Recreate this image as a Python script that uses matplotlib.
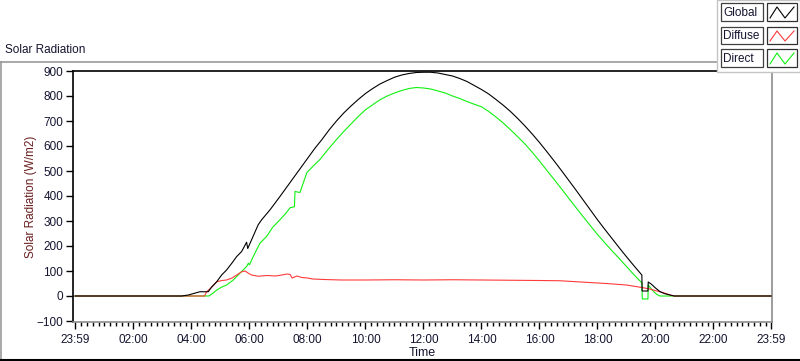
import matplotlib
matplotlib.use("Agg")
import matplotlib.pyplot as plt
from matplotlib.patches import Rectangle
from matplotlib.lines import Line2D
import numpy as np

plt.rcParams['font.family'] = ['Liberation Sans', 'DejaVu Sans']

# ---- data (hours since midnight; 23:59 of previous day = -1/60) ----
global_t = [-1/60, 3.66, 3.89, 4.29, 4.58, 4.7, 4.87, 5.04, 5.21, 5.39, 5.56, 5.73, 5.9, 5.94, 6.13,
            6.3, 6.42, 6.71, 7.0, 7.25, 7.5, 7.75, 8.0, 8.25, 8.5, 8.75, 9.0, 9.25, 9.5, 9.75, 10.0,
            10.25, 10.5, 10.75, 11.0, 11.25, 11.5, 11.75, 12.0, 12.25, 12.5, 12.75, 13.0, 13.25, 13.5,
            13.75, 14.0, 14.25, 14.5, 14.75, 15.0, 15.25, 15.5, 15.75, 16.0, 16.25, 16.5, 16.75, 17.0,
            17.25, 17.5, 17.75, 18.0, 18.25, 18.5, 18.75, 19.0, 19.25, 19.5, 19.53, 19.54, 19.74, 19.75,
            19.85, 20.0, 20.15, 20.3, 20.5, 20.65, 23 + 59/60]
global_v = [0, 0, 4, 17, 17, 37, 57, 84, 104, 131, 158, 178, 215, 190, 240,
            285, 305, 345, 390, 430, 470, 510, 550, 590, 626, 665, 700, 732, 760, 786, 810,
            830, 848, 862, 875, 884, 890, 894, 895, 895, 892, 886, 880, 870, 858,
            842, 826, 808, 786, 763, 738, 710, 680, 648, 614, 578, 541, 503, 464,
            425, 385, 345, 305, 267, 230, 193, 157, 122, 88, 84, 20, 20, 56,
            48, 32, 18, 10, 4, 0, 0]

diffuse_t = [-1/60, 4.45, 4.52, 4.7, 4.87, 5.05, 5.21, 5.4, 5.56, 5.73, 5.85, 5.95, 6.07, 6.3, 6.6,
             6.9, 7.12, 7.3, 7.4, 7.47, 7.64, 7.8, 8.0, 8.18, 8.58, 9.16, 10.0, 11.0, 12.0, 13.0,
             14.0, 15.0, 16.0, 16.7, 17.57, 18.3, 19.0, 19.53, 19.8, 20.15, 20.3, 20.5, 20.65,
             23 + 59/60]
diffuse_v = [0, 0, 17, 35, 57, 62, 64, 72, 84, 97, 100, 92, 84, 79, 82,
             80, 84, 88, 86, 72, 80, 74, 72, 68, 66, 64, 64, 65, 64, 65,
             64, 63, 62, 61, 55, 50, 44, 34, 28, 17, 12, 4, 0,
             0]

direct_t = [-1/60, 3.7, 4.6, 4.75, 4.87, 5.05, 5.21, 5.44, 5.67, 5.9, 5.96, 6.0, 6.13, 6.36, 6.59,
            6.8, 7.05, 7.25, 7.4, 7.55, 7.57, 7.74, 7.98, 8.2, 8.43, 8.7, 9.0, 9.25, 9.5, 9.75, 10.0,
            10.25, 10.5, 10.75, 11.0, 11.25, 11.5, 11.75, 12.0, 12.25, 12.5, 12.75, 13.0, 13.25, 13.5,
            13.75, 14.0, 14.25, 14.5, 14.75, 15.0, 15.25, 15.5, 15.75, 16.0, 16.25, 16.5, 16.75, 17.0,
            17.25, 17.5, 17.75, 18.0, 18.25, 18.5, 18.75, 19.0, 19.25, 19.5, 19.53, 19.545, 19.74,
            19.75, 19.9, 20.05, 20.15, 20.6, 23 + 59/60]
direct_v = [0, 0, 0, 12, 24, 36, 44, 64, 91, 118, 131, 125, 158, 211, 238,
            275, 305, 330, 353, 357, 418, 414, 494, 520, 546, 585, 626, 658, 688, 718, 745,
            765, 785, 800, 812, 822, 830, 834, 832, 828, 820, 812, 800, 790, 778,
            767, 757, 738, 716, 692, 665, 637, 608, 575, 540, 503, 467, 430, 392,
            355, 318, 282, 246, 213, 181, 150, 118, 86, 56, 52, -12, -12,
            44, 22, 6, 0, 0, 0]

x_tick_pos = [-1/60, 2, 4, 6, 8, 10, 12, 14, 16, 18, 20, 22, 23 + 59/60]
x_tick_labels = ['23:59', '02:00', '04:00', '06:00', '08:00', '10:00', '12:00',
                 '14:00', '16:00', '18:00', '20:00', '22:00', '23:59']
y_ticks = [-100, 0, 100, 200, 300, 400, 500, 600, 700, 800, 900]
series_names = ['Global', 'Diffuse', 'Direct']
series_colors = ['#000000', '#ff3a3a', '#10f010']

W, H = 800, 361
fig = plt.figure(figsize=(W / 100, H / 100), dpi=100)
fig.patch.set_facecolor('white')

def fx(px):
    return px / W

def fy(py):
    return 1 - py / H

ax_l, ax_r, ax_t, ax_b = 73, 772, 71, 322
ax = fig.add_axes([fx(ax_l), fy(ax_b), fx(ax_r - ax_l), (ax_b - ax_t) / H])

ax.plot(direct_t, direct_v, color=series_colors[2], lw=0.8, zorder=2)
ax.plot(diffuse_t, diffuse_v, color=series_colors[1], lw=0.8, zorder=3)
ax.plot(global_t, global_v, color=series_colors[0], lw=0.8, zorder=4)

px_per_h = 29.0
x0 = -1/60 - 2 / px_per_h
x1 = 23 + 59/60 + 1 / px_per_h
ax.set_xlim(x0, x1)
ax.set_ylim(-104, 900)

ax.set_xticks(x_tick_pos)
ax.set_xticklabels(x_tick_labels)
minors = [m for m in np.arange(0.2, 24, 0.2) if all(abs(m - p) > 0.05 for p in x_tick_pos)]
ax.set_xticks(minors, minor=True)
ax.set_yticks(y_ticks)

tick_col = '#141430'
ax.tick_params(axis='x', which='major', length=5, width=1, color='#000000', labelsize=8.5,
               labelcolor=tick_col, pad=3.5, direction='out')
ax.tick_params(axis='x', which='minor', length=3, width=1, color='#000000', direction='out')
ax.tick_params(axis='y', which='major', length=5, width=1, color='#000000', labelsize=8.5,
               labelcolor=tick_col, pad=2, direction='out')

for s in ['left', 'top']:
    ax.spines[s].set_color('#000000')
    ax.spines[s].set_linewidth(1.2)
for s in ['right', 'bottom']:
    ax.spines[s].set_color('#8c8c8c')
    ax.spines[s].set_linewidth(1.2)

ax.set_xlabel('Time', fontsize=9, color=tick_col, labelpad=1.2)
ax.set_ylabel('Solar Radiation (W/m2)', fontsize=8.5, color='#6a1e1e', labelpad=0)

fig.text(fx(5), fy(50), 'Solar Radiation', fontsize=8.5, color=tick_col, ha='left', va='center')

# panel frame lines
fig.add_artist(Line2D([fx(0), fx(717)], [fy(62), fy(62)], color='#9a9a9a', lw=1.2, zorder=5))
fig.add_artist(Line2D([fx(1), fx(1)], [fy(62), fy(361)], color='#9a9a9a', lw=1.2, zorder=5))
fig.add_artist(Line2D([fx(0), fx(800)], [fy(360), fy(360)], color='#000000', lw=1.5, zorder=5))

# legend panel
fig.add_artist(Rectangle((fx(717), fy(72)), fx(83), 72 / H, facecolor='white',
                         edgecolor='#c4c4c4', lw=1.0, zorder=10))
rows = [(3, 21), (27, 44), (49, 67)]
for (top, bot), name, col in zip(rows, series_names, series_colors):
    fig.add_artist(Rectangle((fx(721), fy(bot)), fx(42), (bot - top) / H, facecolor='white',
                             edgecolor='#404040', lw=0.9, zorder=11))
    fig.add_artist(Rectangle((fx(767), fy(bot)), fx(30), (bot - top) / H, facecolor='white',
                             edgecolor='#303030', lw=0.9, zorder=11))
    fig.text(fx(723), fy((top + bot) / 2 + 0.5), name, fontsize=8.5, color=tick_col,
             ha='left', va='center', zorder=12)
    zx = [770, 777, 785, 794]
    zy = [bot - 3, top + 4, bot - 3, top + 4]
    fig.add_artist(Line2D([fx(v) for v in zx], [fy(v) for v in zy], color=col, lw=0.8, zorder=12))

fig.savefig('out.png', dpi=100)
